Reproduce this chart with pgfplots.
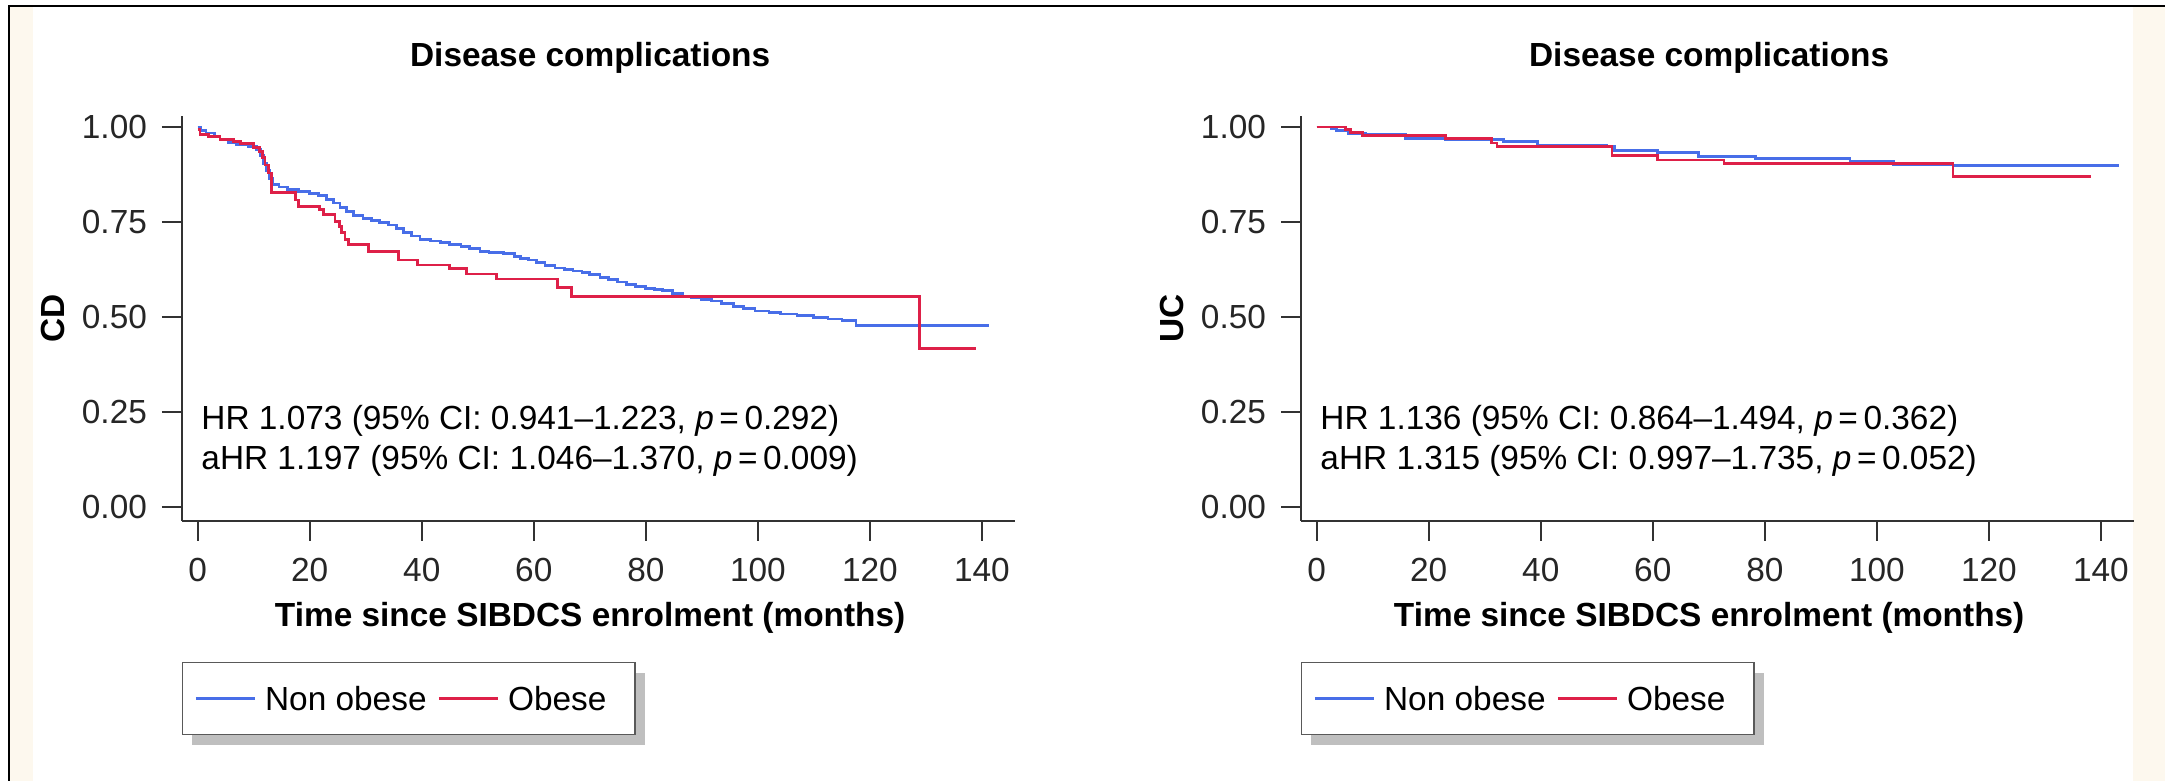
\documentclass[border=0pt]{standalone}
\usepackage{pgfplots}
\pgfplotsset{compat=1.18}
\usepackage{fontspec}
\setmainfont{Liberation Sans}
\definecolor{kmblue}{RGB}{72,110,232}
\definecolor{kmred}{RGB}{222,32,72}
\definecolor{beige}{RGB}{253,248,238}
\definecolor{axisgray}{RGB}{50,50,50}
\newcommand{\kmfont}{\fontsize{16.7}{20}\selectfont}

\pgfplotstableread{
x y
0 1.000
0.5 0.990
1.5 0.984
3 0.975
4 0.967
5.5 0.960
7 0.954
9 0.948
10.5 0.940
11.2 0.925
11.8 0.905
12.3 0.885
12.8 0.865
13.3 0.848
14.5 0.842
16 0.836
18 0.831
20 0.826
21.5 0.820
23 0.810
24.3 0.800
25.4 0.789
26.5 0.777
27.8 0.767
29.5 0.760
31 0.755
32.5 0.749
34 0.742
35.5 0.732
36.8 0.722
38.2 0.713
39.7 0.705
41.5 0.700
43.3 0.697
45 0.691
47 0.686
48.5 0.680
50.4 0.673
52 0.669
54.6 0.667
56.5 0.660
57.6 0.655
59 0.650
60.5 0.643
62 0.636
63.8 0.629
65.5 0.625
67 0.621
68.6 0.618
70 0.612
71.8 0.604
73.4 0.598
75 0.592
76.5 0.586
78.2 0.581
80 0.576
81.5 0.573
83 0.569
84.8 0.562
86.5 0.555
88.2 0.550
90 0.547
91.7 0.542
93.5 0.535
95.6 0.528
97.5 0.522
99.5 0.516
102 0.511
104 0.508
107 0.504
110 0.498
112.5 0.495
115 0.490
117.5 0.478
141.3 0.478
}\cdnon

\pgfplotstableread{
x y
0 0.993
0.4 0.980
2 0.975
4 0.967
6.4 0.962
7.6 0.956
9.9 0.947
11 0.935
11.5 0.920
12 0.900
12.6 0.879
13.2 0.828
17.5 0.808
18 0.790
21.8 0.782
22.4 0.769
24.5 0.752
25.3 0.738
25.7 0.722
26.3 0.705
26.9 0.690
30.5 0.672
35.9 0.650
39.3 0.637
45 0.627
48 0.613
53.3 0.600
64.3 0.577
66.7 0.553
128.8 0.418
139 0.418
}\cdob

\pgfplotstableread{
x y
0 1.000
2.6 0.997
3.6 0.991
5.6 0.983
8.7 0.980
15.9 0.970
23 0.968
31.2 0.967
33.3 0.961
39.4 0.952
51.7 0.948
53.2 0.939
60.9 0.932
68.1 0.923
78.3 0.917
95.2 0.909
102.9 0.900
113.6 0.898
143.3 0.898
}\ucnon

\pgfplotstableread{
x y
0 1.000
5.1 0.993
6.1 0.985
8.2 0.978
23 0.970
31.2 0.958
32.2 0.948
52.7 0.926
60.9 0.913
72.7 0.904
113.6 0.870
138.3 0.870
}\ucob

\pgfplotsset{
  kmaxis/.style={
    scale only axis,
    width=416.5pt, height=202.5pt,
    anchor=south west,
    xmin=-2.8, xmax=145.9,
    ymin=-0.0368, ymax=1.029,
    axis lines=left,
    axis line style={-, line width=1.2pt, color=axisgray},
    tick align=outside,
    major tick length=10pt,
    tick style={line width=1pt, color=axisgray},
    xtick={0,20,...,140},
    ytick={0,0.25,0.5,0.75,1},
    yticklabels={0.00,0.25,0.50,0.75,1.00},
    font=\kmfont,
    tick label style={font=\kmfont, color=black!85},
    xticklabel style={yshift=-5pt},
    yticklabel style={xshift=-4pt},
    /pgf/number format/assume math mode=true,
    clip=false,
    title style={at={(axis description cs:0.49,1.143)}, anchor=center, yshift=-6pt, font=\kmfont\bfseries},
    xlabel style={at={(axis description cs:0.49,-0.24)}, anchor=center, font=\kmfont\bfseries},
    ylabel style={at={(axis description cs:-0.155,0.5)}, anchor=center, font=\kmfont\bfseries},
    legend columns=2,
    legend style={at={(axis description cs:0.0,-0.348)}, anchor=north west,
      draw=black!65, line width=0.7pt, fill=white,
      font=\kmfont,
      inner xsep=6pt, inner ysep=12pt,
      nodes={inner sep=0pt, text height=12pt, text depth=0pt},
      /tikz/every odd column/.append style={column sep=4.5pt},
      /tikz/every even column/.append style={column sep=5.5pt}},
  },
  kmline/.style={const plot, line width=1.4pt,
    legend image code/.code={\draw[##1, line width=1.2pt] (0pt,0pt) -- (29.5pt,0pt);}},
}

\begin{document}
\begin{tikzpicture}
\fill[white] (0,0) rectangle (1082.5pt,390.5pt);
\fill[beige] (4.5pt,0) rectangle (16.5pt,387.5pt);
\fill[beige] (1066.5pt,0) rectangle (1082.5pt,387.5pt);
\draw[line width=1pt, black] (4.5pt,0) -- (4.5pt,387.5pt) -- (1082.5pt,387.5pt);
% legend shadows
\fill[black!25] (96pt,18pt) rectangle (322.5pt,54pt);
\fill[black!25] (655.5pt,18pt) rectangle (882pt,54pt);

\begin{axis}[kmaxis, at={(91pt,130pt)},
  title={Disease complications},
  xlabel={Time since SIBDCS enrolment (months)},
  ylabel={CD}]
\addplot[kmline, kmblue] table[x=x,y=y] {\cdnon};
\addlegendentry{Non obese}
\addplot[kmline, kmred] table[x=x,y=y] {\cdob};
\addlegendentry{\makebox[57.5pt][l]{Obese}}
\node[anchor=west, inner sep=0pt] at (axis cs:0.6,0.226) {HR 1.073 (95\% CI: 0.941\textendash1.223, \textit{p}\,=\,0.292)};
\node[anchor=west, inner sep=0pt] at (axis cs:0.6,0.121) {aHR 1.197 (95\% CI: 1.046\textendash1.370, \textit{p}\,=\,0.009)};
\end{axis}

\begin{axis}[kmaxis, at={(650.5pt,130pt)},
  title={Disease complications},
  xlabel={Time since SIBDCS enrolment (months)},
  ylabel={UC}]
\addplot[kmline, kmblue] table[x=x,y=y] {\ucnon};
\addlegendentry{Non obese}
\addplot[kmline, kmred] table[x=x,y=y] {\ucob};
\addlegendentry{\makebox[57.5pt][l]{Obese}}
\node[anchor=west, inner sep=0pt] at (axis cs:0.6,0.226) {HR 1.136 (95\% CI: 0.864\textendash1.494, \textit{p}\,=\,0.362)};
\node[anchor=west, inner sep=0pt] at (axis cs:0.6,0.121) {aHR 1.315 (95\% CI: 0.997\textendash1.735, \textit{p}\,=\,0.052)};
\end{axis}
\pgfresetboundingbox
\path (0,0) rectangle (1082.5pt,390.5pt);
\end{tikzpicture}
\end{document}
